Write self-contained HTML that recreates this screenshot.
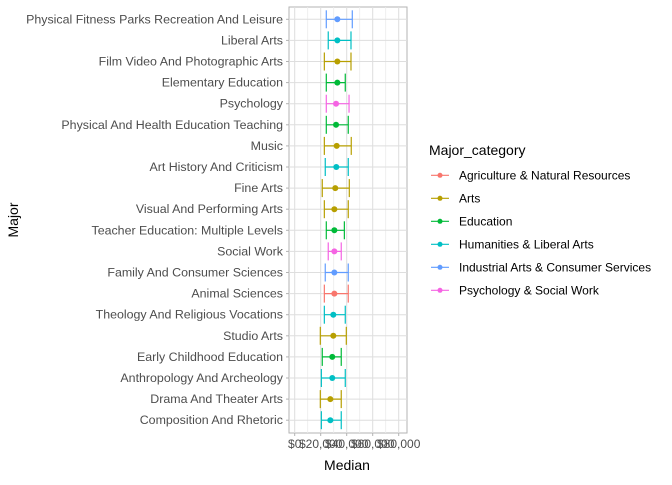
<!DOCTYPE html>
<html><head><meta charset="utf-8"><style>
body{margin:0;background:#fff;font-family:"Liberation Sans",Arial,sans-serif}
svg text{font-family:"Liberation Sans",Arial,sans-serif}
</style></head><body>
<svg id="chart" width="672" height="480" xmlns="http://www.w3.org/2000/svg">
<g id="grid"></g>
<g id="bars"></g>
<g id="axes"></g>
<text x="347" y="470" font-size="14" text-anchor="middle" fill="#000">Median</text>
<text transform="translate(18,220) rotate(-90)" font-size="14" text-anchor="middle" fill="#000">Major</text>
<g id="legend">
<text x="429" y="155" font-size="14" fill="#000">Major_category</text>
</g>
</svg>
<script>
const majors=["Physical Fitness Parks Recreation And Leisure","Liberal Arts","Film Video And Photographic Arts","Elementary Education","Psychology","Physical And Health Education Teaching","Music","Art History And Criticism","Fine Arts","Visual And Performing Arts","Teacher Education: Multiple Levels","Social Work","Family And Consumer Sciences","Animal Sciences","Theology And Religious Vocations","Studio Arts","Early Childhood Education","Anthropology And Archeology","Drama And Theater Arts","Composition And Rhetoric"];
const cats=[4,3,1,2,5,2,1,3,1,1,2,5,4,0,3,1,2,3,1,3];
const medians=[32800,32800,32800,32800,31800,31800,32300,32000,31200,30500,30500,30500,30500,30500,29700,29700,28900,28900,27400,27400];
const lows=[24300,25800,22800,24300,24300,24300,22800,23500,21200,22800,24300,25800,23500,22800,22800,19700,21200,20500,19700,20500];
const highs=[44300,43300,43300,38900,41800,41200,43500,41200,42000,41200,38200,35800,41200,41200,38900,39700,35800,38900,35800,35800];
const categoryNames=["Agriculture & Natural Resources","Arts","Education","Humanities & Liberal Arts","Industrial Arts & Consumer Services","Psychology & Social Work"];
const xTicks=[0,20000,40000,60000,80000];
const xTickLabels=["$0","$20,000","$40,000","$60,000","$80,000"];
const colors=["#F8766D","#B79F00","#00BA38","#00BFC4","#619CFF","#F564E3"];
const NS="http://www.w3.org/2000/svg";
const L=289,R=407,T=7,B=433;
const xs=v=>294.7+v*26/20000;
const ys=i=>19.3+i*21.1;
function mk(tag,attrs,parent){const e=document.createElementNS(NS,tag);for(const k in attrs)e.setAttribute(k,attrs[k]);parent.appendChild(e);return e;}
const grid=document.getElementById('grid'),bars=document.getElementById('bars'),axes=document.getElementById('axes'),legend=document.getElementById('legend');
let bg=mk('rect',{x:L,y:T,width:R-L,height:B-T,fill:'#fff',stroke:'#b3b3b3','stroke-width':1},grid);


for(let k=0;k<xTicks.length;k++){
 const v=xTicks[k];
 let g=mk('line',{x1:xs(v),x2:xs(v),y1:T,y2:B,stroke:'#dedede','stroke-width':1},grid);
 
 
 if(k<xTicks.length-1){const m=(xTicks[k]+xTicks[k+1])/2;
 let gm=mk('line',{x1:xs(m),x2:xs(m),y1:T,y2:B,stroke:'#ebebeb','stroke-width':0.8},grid);
 
 }
 let t=mk('line',{x1:xs(v),x2:xs(v),y1:B,y2:B+3,stroke:'#b3b3b3'},axes);
 
 
 let tl=mk('text',{x:xs(v),y:B+15,'font-size':12,'text-anchor':'middle',fill:'#4d4d4d'},axes);
 tl.textContent=xTickLabels[k];
 
 
}
for(let i=0;i<majors.length;i++){
 const y=ys(i),c=colors[cats[i]];
 let g=mk('line',{x1:L,x2:R,y1:y,y2:y,stroke:'#dedede'},grid);
 
 
 let t=mk('line',{x1:L-3,x2:L,y1:y,y2:y,stroke:'#b3b3b3'},axes);
 
 
 let tl=mk('text',{x:L-6,y:y+4,'font-size':12.4,'text-anchor':'end',fill:'#4d4d4d'},axes);
 tl.textContent=majors[i];
 
 
 const g2=mk('g',{},bars);
 
 
 mk('line',{x1:xs(lows[i]),x2:xs(highs[i]),y1:y,y2:y,stroke:c,'stroke-width':1.2},g2);
 mk('line',{x1:xs(lows[i]),x2:xs(lows[i]),y1:y-9,y2:y+9,stroke:c,'stroke-width':1.2},g2);
 mk('line',{x1:xs(highs[i]),x2:xs(highs[i]),y1:y-9,y2:y+9,stroke:c,'stroke-width':1.2},g2);
 let p=mk('circle',{cx:xs(medians[i]),cy:y,r:3,fill:c},g2);
 
 
}
for(let j=0;j<categoryNames.length;j++){
 const y=175.3+j*23;
 const g=mk('g',{},legend);
 
 
 mk('line',{x1:431,x2:449,y1:y,y2:y,stroke:colors[j],'stroke-width':1.2},g);
 mk('circle',{cx:440,cy:y,r:2.5,fill:colors[j]},g);
 const t=mk('text',{x:459,y:y+4,'font-size':12,fill:'#000'},g);
 t.textContent=categoryNames[j];
}
</script>
</body></html>
